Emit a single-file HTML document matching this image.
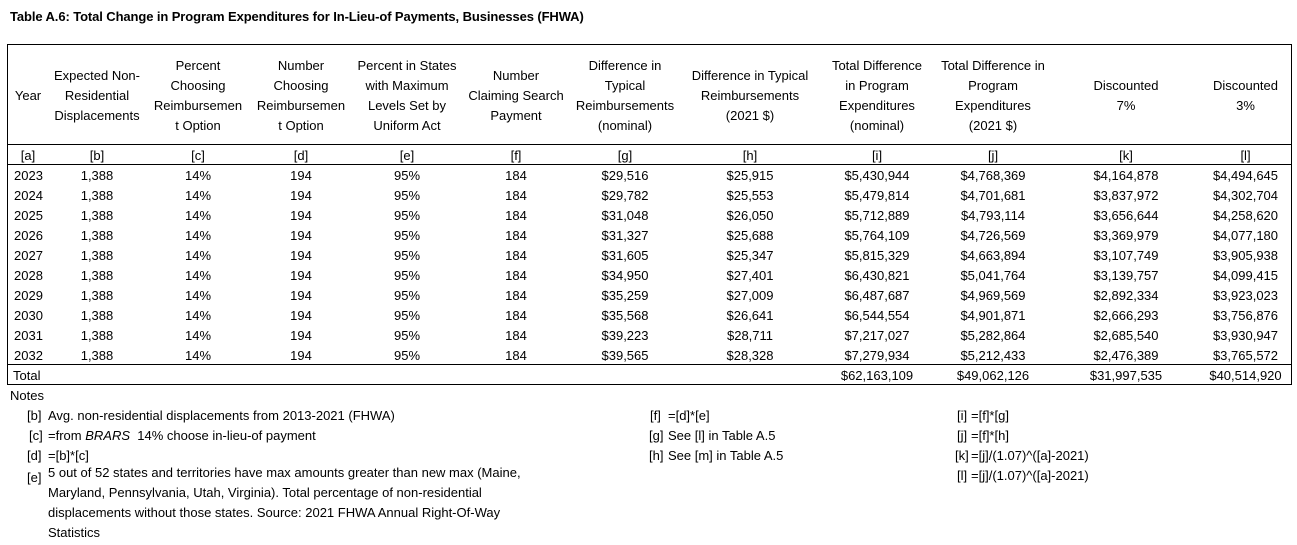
<!DOCTYPE html>
<html><head><meta charset="utf-8"><style>
html,body{margin:0;padding:0;background:#fff}
#p{position:relative;width:1297px;height:545px;overflow:hidden;font-family:"Liberation Sans",Arial,sans-serif;font-size:13px;color:#000}
.t{position:absolute;white-space:nowrap;line-height:20px;margin-top:1px}
.c{position:absolute;white-space:nowrap;line-height:20px;text-align:center;margin-top:1px}
.h{position:absolute;top:46px;height:99px;display:flex;align-items:center;justify-content:center;text-align:center;line-height:20px;white-space:nowrap}
.ln{position:absolute;left:7px;width:1285px;height:1px;background:#000}
</style></head><body><div id="p">
<div class="t" style="left:10px;top:6px;font-weight:bold;letter-spacing:-0.1px">Table A.6: Total Change in Program Expenditures for In-Lieu-of Payments, Businesses (FHWA)</div>
<div style="position:absolute;left:7px;top:44px;width:1285px;height:341px;border:1px solid #000;box-sizing:border-box"></div>
<div class="ln" style="top:144px"></div>
<div class="ln" style="top:164px"></div>
<div class="ln" style="top:364px"></div>

<div class="h" style="left:7px;width:42px">Year</div>
<div class="h" style="left:48px;width:98px">Expected Non-<br>Residential<br>Displacements</div>
<div class="h" style="left:146px;width:104px">Percent<br>Choosing<br>Reimbursemen<br>t Option</div>
<div class="h" style="left:250px;width:102px">Number<br>Choosing<br>Reimbursemen<br>t Option</div>
<div class="h" style="left:352px;width:110px">Percent in States<br>with Maximum<br>Levels Set by<br>Uniform Act</div>
<div class="h" style="left:462px;width:108px">Number<br>Claiming Search<br>Payment</div>
<div class="h" style="left:570px;width:110px">Difference in<br>Typical<br>Reimbursements<br>(nominal)</div>
<div class="h" style="left:680px;width:140px">Difference in Typical<br>Reimbursements<br>(2021 $)</div>
<div class="h" style="left:820px;width:114px">Total Difference<br>in Program<br>Expenditures<br>(nominal)</div>
<div class="h" style="left:934px;width:118px">Total Difference in<br>Program<br>Expenditures<br>(2021 $)</div>
<div class="h" style="left:1052px;width:148px">Discounted<br>7%</div>
<div class="h" style="left:1200px;width:91px">Discounted<br>3%</div>

<div class="c" style="left:7px;width:42px;top:145px">[a]</div>
<div class="c" style="left:48px;width:98px;top:145px">[b]</div>
<div class="c" style="left:146px;width:104px;top:145px">[c]</div>
<div class="c" style="left:250px;width:102px;top:145px">[d]</div>
<div class="c" style="left:352px;width:110px;top:145px">[e]</div>
<div class="c" style="left:462px;width:108px;top:145px">[f]</div>
<div class="c" style="left:570px;width:110px;top:145px">[g]</div>
<div class="c" style="left:680px;width:140px;top:145px">[h]</div>
<div class="c" style="left:820px;width:114px;top:145px">[i]</div>
<div class="c" style="left:934px;width:118px;top:145px">[j]</div>
<div class="c" style="left:1052px;width:148px;top:145px">[k]</div>
<div class="c" style="left:1200px;width:91px;top:145px">[l]</div>

<div class="t" style="left:14px;top:165px">2023</div><div class="c" style="left:48px;width:98px;top:165px">1,388</div><div class="c" style="left:146px;width:104px;top:165px">14%</div><div class="c" style="left:250px;width:102px;top:165px">194</div><div class="c" style="left:352px;width:110px;top:165px">95%</div><div class="c" style="left:462px;width:108px;top:165px">184</div><div class="c" style="left:570px;width:110px;top:165px">$29,516</div><div class="c" style="left:680px;width:140px;top:165px">$25,915</div><div class="c" style="left:820px;width:114px;top:165px">$5,430,944</div><div class="c" style="left:934px;width:118px;top:165px">$4,768,369</div><div class="c" style="left:1052px;width:148px;top:165px">$4,164,878</div><div class="c" style="left:1200px;width:91px;top:165px">$4,494,645</div>
<div class="t" style="left:14px;top:185px">2024</div><div class="c" style="left:48px;width:98px;top:185px">1,388</div><div class="c" style="left:146px;width:104px;top:185px">14%</div><div class="c" style="left:250px;width:102px;top:185px">194</div><div class="c" style="left:352px;width:110px;top:185px">95%</div><div class="c" style="left:462px;width:108px;top:185px">184</div><div class="c" style="left:570px;width:110px;top:185px">$29,782</div><div class="c" style="left:680px;width:140px;top:185px">$25,553</div><div class="c" style="left:820px;width:114px;top:185px">$5,479,814</div><div class="c" style="left:934px;width:118px;top:185px">$4,701,681</div><div class="c" style="left:1052px;width:148px;top:185px">$3,837,972</div><div class="c" style="left:1200px;width:91px;top:185px">$4,302,704</div>
<div class="t" style="left:14px;top:205px">2025</div><div class="c" style="left:48px;width:98px;top:205px">1,388</div><div class="c" style="left:146px;width:104px;top:205px">14%</div><div class="c" style="left:250px;width:102px;top:205px">194</div><div class="c" style="left:352px;width:110px;top:205px">95%</div><div class="c" style="left:462px;width:108px;top:205px">184</div><div class="c" style="left:570px;width:110px;top:205px">$31,048</div><div class="c" style="left:680px;width:140px;top:205px">$26,050</div><div class="c" style="left:820px;width:114px;top:205px">$5,712,889</div><div class="c" style="left:934px;width:118px;top:205px">$4,793,114</div><div class="c" style="left:1052px;width:148px;top:205px">$3,656,644</div><div class="c" style="left:1200px;width:91px;top:205px">$4,258,620</div>
<div class="t" style="left:14px;top:225px">2026</div><div class="c" style="left:48px;width:98px;top:225px">1,388</div><div class="c" style="left:146px;width:104px;top:225px">14%</div><div class="c" style="left:250px;width:102px;top:225px">194</div><div class="c" style="left:352px;width:110px;top:225px">95%</div><div class="c" style="left:462px;width:108px;top:225px">184</div><div class="c" style="left:570px;width:110px;top:225px">$31,327</div><div class="c" style="left:680px;width:140px;top:225px">$25,688</div><div class="c" style="left:820px;width:114px;top:225px">$5,764,109</div><div class="c" style="left:934px;width:118px;top:225px">$4,726,569</div><div class="c" style="left:1052px;width:148px;top:225px">$3,369,979</div><div class="c" style="left:1200px;width:91px;top:225px">$4,077,180</div>
<div class="t" style="left:14px;top:245px">2027</div><div class="c" style="left:48px;width:98px;top:245px">1,388</div><div class="c" style="left:146px;width:104px;top:245px">14%</div><div class="c" style="left:250px;width:102px;top:245px">194</div><div class="c" style="left:352px;width:110px;top:245px">95%</div><div class="c" style="left:462px;width:108px;top:245px">184</div><div class="c" style="left:570px;width:110px;top:245px">$31,605</div><div class="c" style="left:680px;width:140px;top:245px">$25,347</div><div class="c" style="left:820px;width:114px;top:245px">$5,815,329</div><div class="c" style="left:934px;width:118px;top:245px">$4,663,894</div><div class="c" style="left:1052px;width:148px;top:245px">$3,107,749</div><div class="c" style="left:1200px;width:91px;top:245px">$3,905,938</div>
<div class="t" style="left:14px;top:265px">2028</div><div class="c" style="left:48px;width:98px;top:265px">1,388</div><div class="c" style="left:146px;width:104px;top:265px">14%</div><div class="c" style="left:250px;width:102px;top:265px">194</div><div class="c" style="left:352px;width:110px;top:265px">95%</div><div class="c" style="left:462px;width:108px;top:265px">184</div><div class="c" style="left:570px;width:110px;top:265px">$34,950</div><div class="c" style="left:680px;width:140px;top:265px">$27,401</div><div class="c" style="left:820px;width:114px;top:265px">$6,430,821</div><div class="c" style="left:934px;width:118px;top:265px">$5,041,764</div><div class="c" style="left:1052px;width:148px;top:265px">$3,139,757</div><div class="c" style="left:1200px;width:91px;top:265px">$4,099,415</div>
<div class="t" style="left:14px;top:285px">2029</div><div class="c" style="left:48px;width:98px;top:285px">1,388</div><div class="c" style="left:146px;width:104px;top:285px">14%</div><div class="c" style="left:250px;width:102px;top:285px">194</div><div class="c" style="left:352px;width:110px;top:285px">95%</div><div class="c" style="left:462px;width:108px;top:285px">184</div><div class="c" style="left:570px;width:110px;top:285px">$35,259</div><div class="c" style="left:680px;width:140px;top:285px">$27,009</div><div class="c" style="left:820px;width:114px;top:285px">$6,487,687</div><div class="c" style="left:934px;width:118px;top:285px">$4,969,569</div><div class="c" style="left:1052px;width:148px;top:285px">$2,892,334</div><div class="c" style="left:1200px;width:91px;top:285px">$3,923,023</div>
<div class="t" style="left:14px;top:305px">2030</div><div class="c" style="left:48px;width:98px;top:305px">1,388</div><div class="c" style="left:146px;width:104px;top:305px">14%</div><div class="c" style="left:250px;width:102px;top:305px">194</div><div class="c" style="left:352px;width:110px;top:305px">95%</div><div class="c" style="left:462px;width:108px;top:305px">184</div><div class="c" style="left:570px;width:110px;top:305px">$35,568</div><div class="c" style="left:680px;width:140px;top:305px">$26,641</div><div class="c" style="left:820px;width:114px;top:305px">$6,544,554</div><div class="c" style="left:934px;width:118px;top:305px">$4,901,871</div><div class="c" style="left:1052px;width:148px;top:305px">$2,666,293</div><div class="c" style="left:1200px;width:91px;top:305px">$3,756,876</div>
<div class="t" style="left:14px;top:325px">2031</div><div class="c" style="left:48px;width:98px;top:325px">1,388</div><div class="c" style="left:146px;width:104px;top:325px">14%</div><div class="c" style="left:250px;width:102px;top:325px">194</div><div class="c" style="left:352px;width:110px;top:325px">95%</div><div class="c" style="left:462px;width:108px;top:325px">184</div><div class="c" style="left:570px;width:110px;top:325px">$39,223</div><div class="c" style="left:680px;width:140px;top:325px">$28,711</div><div class="c" style="left:820px;width:114px;top:325px">$7,217,027</div><div class="c" style="left:934px;width:118px;top:325px">$5,282,864</div><div class="c" style="left:1052px;width:148px;top:325px">$2,685,540</div><div class="c" style="left:1200px;width:91px;top:325px">$3,930,947</div>
<div class="t" style="left:14px;top:345px">2032</div><div class="c" style="left:48px;width:98px;top:345px">1,388</div><div class="c" style="left:146px;width:104px;top:345px">14%</div><div class="c" style="left:250px;width:102px;top:345px">194</div><div class="c" style="left:352px;width:110px;top:345px">95%</div><div class="c" style="left:462px;width:108px;top:345px">184</div><div class="c" style="left:570px;width:110px;top:345px">$39,565</div><div class="c" style="left:680px;width:140px;top:345px">$28,328</div><div class="c" style="left:820px;width:114px;top:345px">$7,279,934</div><div class="c" style="left:934px;width:118px;top:345px">$5,212,433</div><div class="c" style="left:1052px;width:148px;top:345px">$2,476,389</div><div class="c" style="left:1200px;width:91px;top:345px">$3,765,572</div>
<div class="t" style="left:13px;top:365px">Total</div><div class="c" style="left:820px;width:114px;top:365px">$62,163,109</div><div class="c" style="left:934px;width:118px;top:365px">$49,062,126</div><div class="c" style="left:1052px;width:148px;top:365px">$31,997,535</div><div class="c" style="left:1200px;width:91px;top:365px">$40,514,920</div>

<div class="t" style="left:10px;top:385px">Notes</div>
<div class="t" style="left:27px;top:405px">[b]</div><div class="t" style="left:48px;top:405px">Avg. non-residential displacements from 2013-2021 (FHWA)</div>
<div class="t" style="left:29px;top:425px">[c]</div><div class="t" style="left:48px;top:425px">=from <i>BRARS</i> &nbsp;14% choose in-lieu-of payment</div>
<div class="t" style="left:27px;top:445px">[d]</div><div class="t" style="left:48px;top:445px">=[b]*[c]</div>
<div class="t" style="left:27px;top:467px">[e]</div>
<div class="t" style="left:48px;top:462px">5 out of 52 states and territories have max amounts greater than new max (Maine,<br>Maryland, Pennsylvania, Utah, Virginia). Total percentage of non-residential<br>displacements without those states. Source: 2021 FHWA Annual Right-Of-Way<br>Statistics</div>

<div class="t" style="left:650px;top:405px">[f]</div><div class="t" style="left:668px;top:405px">=[d]*[e]</div>
<div class="t" style="left:649px;top:425px">[g]</div><div class="t" style="left:668px;top:425px">See [l] in Table A.5</div>
<div class="t" style="left:649px;top:445px">[h]</div><div class="t" style="left:668px;top:445px">See [m] in Table A.5</div>

<div class="t" style="left:957px;top:405px">[i]</div><div class="t" style="left:971px;top:405px">=[f]*[g]</div>
<div class="t" style="left:957px;top:425px">[j]</div><div class="t" style="left:971px;top:425px">=[f]*[h]</div>
<div class="t" style="left:955px;top:445px">[k]</div><div class="t" style="left:971px;top:445px">=[j]/(1.07)^([a]-2021)</div>
<div class="t" style="left:957px;top:465px">[l]</div><div class="t" style="left:971px;top:465px">=[j]/(1.07)^([a]-2021)</div>
</div></body></html>
